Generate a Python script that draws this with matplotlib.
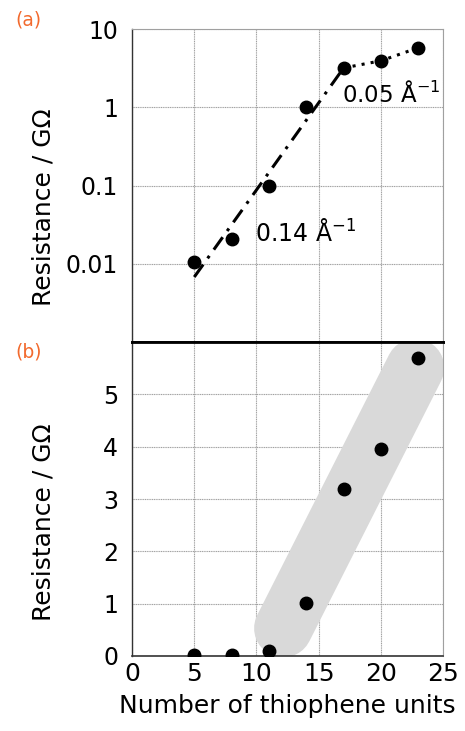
import matplotlib
matplotlib.use("Agg")
from matplotlib import pyplot as plt

plt.rcParams['font.family'] = ['DejaVu Sans']

# thiophene units and measured resistance (GOhm)
units = [5, 8, 11, 14, 17, 20, 23]
resistance = [0.0105, 0.021, 0.10, 1.02, 3.2, 3.95, 5.7]

# fit lines drawn on the log panel
fit_short_x = [5, 17]
fit_short_y = [0.0068, 3.2]
fit_long_x = [17, 20, 23]
fit_long_y = [3.2, 3.95, 5.8]

# grey highlight band on the linear panel (start / end centres)
band_x = [12.15, 22.75]
band_y = [0.53, 5.51]

log_ticks = [0.01, 0.1, 1, 10]
log_labels = ["0.01", "0.1", "1", "10"]
lin_ticks = [0, 1, 2, 3, 4, 5]
x_ticks = [0, 5, 10, 15, 20, 25]

fig = plt.figure(figsize=(4.65, 7.31), dpi=100)
ax1 = fig.add_axes([0.284, 0.532, 0.669, 0.428])
ax2 = fig.add_axes([0.284, 0.1026, 0.669, 0.4294])

grid_kw = dict(color="#a0a0a0", linewidth=0.8, linestyle=(0, (1, 0.6)))

# ---- (a) log panel
ax1.set_yscale("log")
ax1.set_xlim(0, 25)
ax1.set_ylim(0.001, 10)
ax1.plot(fit_short_x, fit_short_y, color="black", linewidth=2.2,
         linestyle=(0, (5, 2.5, 1, 2.5)), zorder=3)
ax1.plot(fit_long_x, fit_long_y, color="black", linewidth=2.2,
         linestyle=(0, (1, 2)), zorder=3)
ax1.plot(units, resistance, "o", color="black", markersize=9, zorder=4)
ax1.set_yticks(log_ticks)
ax1.set_yticklabels(log_labels)
ax1.minorticks_off()
ax1.set_xticks(x_ticks)
ax1.tick_params(axis="x", labelbottom=False)
ax1.text(9.9, 0.025, "0.14 Å$^{-1}$", fontsize=17, va="center", ha="left")
ax1.text(16.9, 1.5, "0.05 Å$^{-1}$", fontsize=16.5, va="center", ha="left")
ax1.set_ylabel("Resistance / GΩ", fontsize=18)

# ---- (b) linear panel
ax2.set_xlim(0, 25)
ax2.set_ylim(0, 6)
ax2.plot(band_x, band_y, color="#d9d9d9", linewidth=42,
         solid_capstyle="round", zorder=1)
ax2.plot(units, resistance, "o", color="black", markersize=9, zorder=4)
ax2.set_yticks(lin_ticks)
ax2.set_xticks(x_ticks)
ax2.set_ylabel("Resistance / GΩ", fontsize=18)
ax2.set_xlabel("Number of thiophene units", fontsize=18, labelpad=6)

for ax in (ax1, ax2):
    ax.grid(True, which="major", **grid_kw)
    ax.set_axisbelow(True)
    ax.tick_params(length=0, labelsize=17, pad=10)
    ax.spines["right"].set_color("#a0a0a0")
    ax.spines["right"].set_linewidth(0.8)
    ax.spines["left"].set_color("#333333")
    ax.spines["left"].set_linewidth(1.0)
ax1.yaxis.set_label_coords(-0.245, 0.431)
ax2.yaxis.set_label_coords(-0.245, 0.427)
ax2.tick_params(axis="x", pad=4, labelsize=18)

ax1.spines["top"].set_color("#a0a0a0")
ax1.spines["top"].set_linewidth(0.8)
ax1.spines["bottom"].set_color("black")
ax1.spines["bottom"].set_linewidth(2.0)
ax2.spines["top"].set_color("black")
ax2.spines["top"].set_linewidth(2.0)
ax2.spines["bottom"].set_color("#333333")
ax2.spines["bottom"].set_linewidth(1.2)

fig.text(0.034, 0.973, "(a)", color="#f26a2e", fontsize=13.5, va="center")
fig.text(0.034, 0.518, "(b)", color="#f26a2e", fontsize=13.5, va="center")

fig.savefig("out.png", dpi=100)
